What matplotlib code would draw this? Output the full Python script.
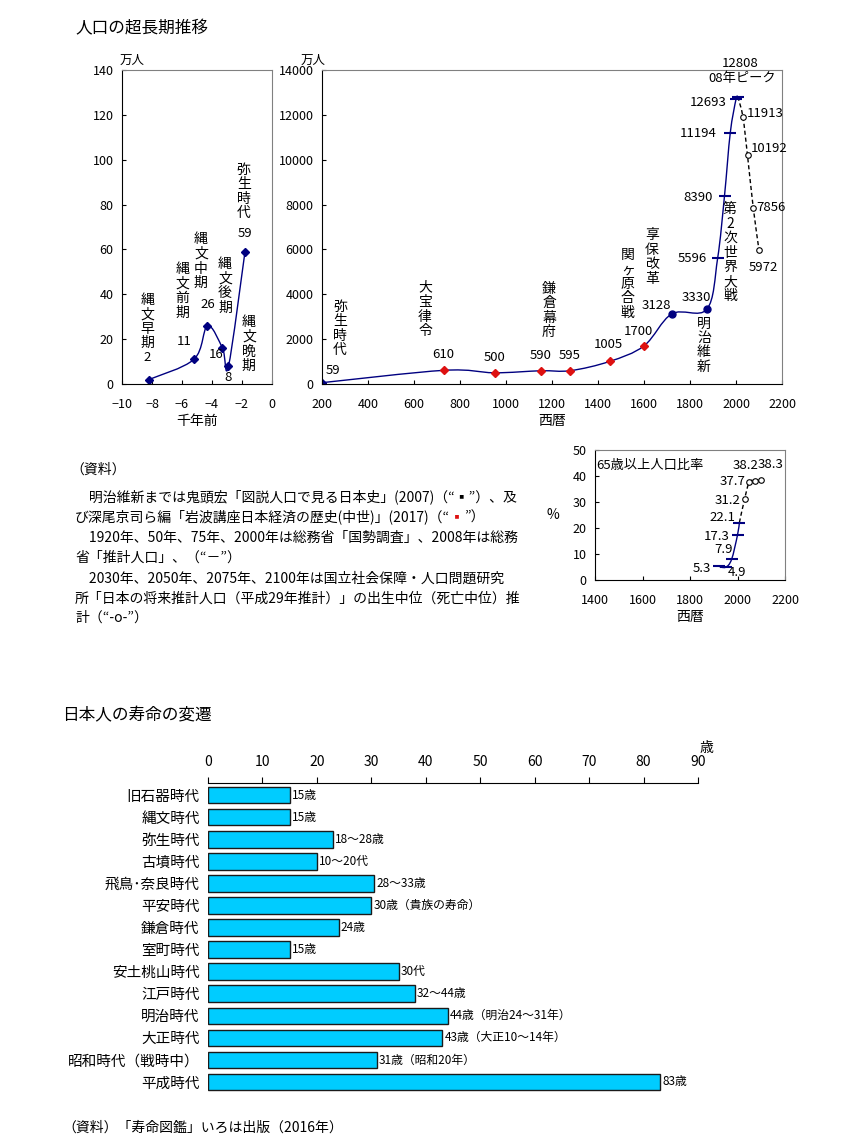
import numpy as np
import matplotlib
matplotlib.use('Agg')
import matplotlib.pyplot as plt
from matplotlib.path import Path
from matplotlib.patches import PathPatch

plt.rcParams['font.family'] = ['Noto Sans CJK JP', 'DejaVu Sans']
plt.rcParams['font.size'] = 9

W, H = 864, 1147
NAVY = '#000080'
RED = '#DD1111'

# --- 縄文 (千年前) ---
jomon_x = [-8.2, -5.2, -4.3, -3.3, -2.9, -1.8]
jomon_y = [2, 11, 26, 16, 8, 59]
jomon_names = ['縄文早期', '縄文前期', '縄文中期', '縄文後期', '縄文晩期', '弥生時代']

# --- 西暦 ---
years = [200, 730, 950, 1150, 1280, 1450, 1600, 1721, 1873, 1920, 1950, 1975, 2000, 2008]
pop = [59, 610, 500, 590, 595, 1005, 1700, 3128, 3330, 5596, 8390, 11194, 12693, 12808]
proj_years = [2008, 2030, 2050, 2075, 2100]
proj_pop = [12808, 11913, 10192, 7856, 5972]

# --- 65歳以上人口比率 ---
aged_years = [1920, 1950, 1975, 2000, 2008]
aged_pct = [5.3, 4.9, 7.9, 17.3, 22.1]
aged_proj_years = [2008, 2030, 2050, 2075, 2100]
aged_proj_pct = [22.1, 31.2, 37.7, 38.2, 38.3]

# --- 寿命 ---
eras = ['旧石器時代', '縄文時代', '弥生時代', '古墳時代', '飛鳥･奈良時代', '平安時代', '鎌倉時代',
        '室町時代', '安土桃山時代', '江戸時代', '明治時代', '大正時代', '昭和時代（戦時中）', '平成時代']
life = [15, 15, 23, 20, 30.5, 30, 24, 15, 35, 38, 44, 43, 31, 83]
life_labels = ['15歳', '15歳', '18～28歳', '10～20代', '28～33歳', '30歳（貴族の寿命）', '24歳',
               '15歳', '30代', '32～44歳', '44歳（明治24～31年）', '43歳（大正10～14年）',
               '31歳（昭和20年）', '83歳']


def box(l, t, r, b):
    return [l / W, 1 - b / H, (r - l) / W, (b - t) / H]


def ftext(px, py, s, **kw):
    return fig.text(px / W, 1 - py / H, s, va='center', **kw)


def smooth(ax, xs, ys, **kw):
    # Excel-like smoothed line through the points
    pts = np.column_stack([xs, ys]).astype(float)
    n = len(pts)
    verts = [pts[0]]
    codes = [Path.MOVETO]
    for i in range(n - 1):
        p0 = pts[i - 1] if i > 0 else pts[i]
        p1, p2 = pts[i], pts[i + 1]
        p3 = pts[i + 2] if i + 2 < n else pts[i + 1]
        verts += [p1 + (p2 - p0) / 6, p2 - (p3 - p1) / 6, p2]
        codes += [Path.CURVE4] * 3
    ax.add_patch(PathPatch(Path(verts, codes), fill=False, **kw))


def vtext(ax, x, y, s, **kw):
    ax.text(x, y, '\n'.join(s), ha='center', va='center', linespacing=1.05,
            fontsize=10, **kw)


def style(ax):
    for s in ['top', 'right']:
        ax.spines[s].set_color('#808080')
    ax.tick_params(direction='in', length=3, labelsize=9)
    ax.tick_params(axis='x', pad=10)
    ax.tick_params(axis='y', pad=6)


fig = plt.figure(figsize=(W / 100, H / 100), dpi=100)
ftext(75, 29, '人口の超長期推移', fontsize=12)

# left chart
ax1 = fig.add_axes(box(122, 70, 272, 384))
smooth(ax1, jomon_x, jomon_y, color=NAVY, lw=1)
ax1.plot(jomon_x, jomon_y, 'D', color=NAVY, ms=4)
ax1.set_xlim(-10, 0)
ax1.set_ylim(0, 140)
ax1.set_xticks(range(-10, 1, 2))
ax1.set_xticklabels(['−10', '−8', '−6', '−4', '−2', '0'])
ax1.set_yticks(range(0, 141, 20))
ax1.set_xlabel('千年前', fontsize=10, labelpad=2)
style(ax1)
ax1.text(-9.3, 141.5, '万人', fontsize=9, va='bottom', ha='center')
jomon_pos = [(-8.32, 27.9), (-5.97, 41.6), (-4.74, 54.7), (-3.13, 43.8), (-1.54, 17.7), (-1.88, 85.8)]
jomon_val_pos = [(-8.32, 11.6), (-5.86, 18.8), (-4.30, 35.5), (-3.72, 13.0), (-2.95, 3.0), (-1.83, 67.3)]
for name, (x, y) in zip(jomon_names, jomon_pos):
    vtext(ax1, x, y, name)
for v, (x, y) in zip(jomon_y, jomon_val_pos):
    ax1.text(x, y, str(v), ha='center', va='center', fontsize=9.5)

# main chart
ax2 = fig.add_axes(box(322, 70, 782, 384))
smooth(ax2, years, pop, color=NAVY, lw=1)
smooth(ax2, proj_years, proj_pop, color='black', lw=1, linestyle=(0, (3, 2)))
ax2.plot(years[:1], pop[:1], 'D', color=NAVY, ms=4)
ax2.plot(years[1:7], pop[1:7], 'D', color=RED, ms=4)
ax2.plot(years[7:9], pop[7:9], 'o', color=NAVY, ms=5)
ax2.plot(years[9:], pop[9:], '_', color=NAVY, ms=8, mew=1.5)
ax2.plot(proj_years[1:], proj_pop[1:], 'o', mfc='white', mec='black', ms=4, mew=0.8)
ax2.set_xlim(200, 2200)
ax2.set_ylim(0, 14000)
ax2.set_xticks(range(200, 2201, 200))
ax2.set_yticks(range(0, 14001, 2000))
ax2.set_xlabel('西暦', fontsize=10, labelpad=2)
style(ax2)
ax2.text(160, 14150, '万人', fontsize=9, va='bottom', ha='center')

labels_v = [('弥生時代', 278, 2480), ('大宝律令', 648, 3320), ('鎌倉幕府', 1187, 3280),
            ('関ヶ原合戦', 1530, 4470), ('享保改革', 1635, 5670), ('明治維新', 1861, 1730),
            ('第2次世界大戦', 1974, 5850)]
for s, x, y in labels_v:
    vtext(ax2, x, y, s)
val_pos = [(248, 620, 'center'), (726, 1330, 'center'), (952, 1200, 'center'), (1152, 1285, 'center'),
           (1278, 1285, 'center'), (1443, 1770, 'center'), (1574, 2350, 'center'), (1652, 3500, 'center'),
           (1826, 3850, 'center'), (1874, 5580, 'right'), (1900, 8330, 'right'), (1917, 11160, 'right'),
           (1961, 12540, 'right'), (2017, 14310, 'center')]
for v, (x, y, ha) in zip(pop, val_pos):
    ax2.text(x, y, str(v), ha=ha, va='center', fontsize=9.5, clip_on=False)
ax2.text(2026, 13640, '08年ピーク', ha='center', va='center', fontsize=9.5)
proj_pos = [(2046, 12050, 'left'), (2064, 10500, 'left'), (2090, 7885, 'left'), (2117, 5180, 'center')]
for v, (x, y, ha) in zip(proj_pop[1:], proj_pos):
    ax2.text(x, y, str(v), ha=ha, va='center', fontsize=9.5)

# aged ratio chart
ax3 = fig.add_axes(box(595, 450, 785, 580))
smooth(ax3, aged_years, aged_pct, color=NAVY, lw=1)
smooth(ax3, aged_proj_years, aged_proj_pct, color='black', lw=1, linestyle=(0, (3, 2)))
ax3.plot(aged_years, aged_pct, '_', color=NAVY, ms=8, mew=1.5)
ax3.plot(aged_proj_years[1:], aged_proj_pct[1:], 'o', mfc='white', mec='black', ms=4, mew=0.8)
ax3.set_xlim(1400, 2200)
ax3.set_ylim(0, 50)
ax3.set_xticks(range(1400, 2201, 200))
ax3.set_yticks(range(0, 51, 10))
ax3.set_xlabel('西暦', fontsize=10, labelpad=2)
ax3.set_ylabel('%', fontsize=10, rotation=0, labelpad=14, va='center')
style(ax3)
ax3.text(1407, 44.2, '65歳以上人口比率', ha='left', va='center', fontsize=9.5)
aged_val_pos = [(1848, 4.5), (1996, 2.8), (1940, 11.8), (1912, 16.7), (1936, 24.1)]
for v, (x, y) in zip(aged_pct, aged_val_pos):
    ax3.text(x, y, str(v), ha='center', va='center', fontsize=9.5)
aged_proj_pos = [(1957, 30.4), (1978, 37.8), (2032, 44.0), (2140, 44.6)]
for v, (x, y) in zip(aged_proj_pct[1:], aged_proj_pos):
    ax3.text(x, y, str(v), ha='center', va='center', fontsize=9.5, clip_on=False)

# notes
ftext(70, 470, '（資料）', fontsize=10)
ftext(75, 497, '\u3000明治維新までは鬼頭宏「図説人口で見る日本史」(2007)（“▪”）、及', fontsize=10)
t = ftext(75, 517, 'び深尾京司ら編「岩波講座日本経済の歴史(中世)」(2017)（“', fontsize=10)
t2 = plt.annotate('▪', xy=(1, 0), xycoords=t, va='bottom', ha='left', color=RED, fontsize=10)
plt.annotate('”）', xy=(1, 0), xycoords=t2, va='bottom', ha='left', fontsize=10)
ftext(75, 538, '\u30001920年、50年、75年、2000年は総務省「国勢調査」、2008年は総務', fontsize=10)
ftext(75, 558, '省「推計人口」、（“－”）', fontsize=10)
ftext(75, 579, '\u30002030年、2050年、2075年、2100年は国立社会保障・人口問題研究', fontsize=10)
ftext(75, 599, '所「日本の将来推計人口（平成29年推計）」の出生中位（死亡中位）推', fontsize=10)
ftext(75, 618, '計（“-o-”）', fontsize=10)

# life expectancy chart
ftext(62, 716, '日本人の寿命の変遷', fontsize=12)
ax4 = fig.add_axes(box(208, 783, 698, 1093))
ypos = np.arange(len(eras))
ax4.barh(ypos, life, height=0.75, color='#00CCFF', edgecolor='#1a1a1a', linewidth=1)
for y, v, s in zip(ypos, life, life_labels):
    ax4.text(v + 0.4, y, s, ha='left', va='center', fontsize=8.5)
ax4.set_xlim(0, 90)
ax4.set_ylim(len(eras) - 0.5, -0.55)
ax4.set_yticks(ypos)
ax4.set_yticklabels(eras, fontsize=10.5)
ax4.set_xticks(range(0, 91, 10))
ax4.xaxis.tick_top()
ax4.tick_params(axis='x', direction='out', length=4, labelsize=10, pad=6)
ax4.tick_params(axis='y', length=0, pad=6)
for s in ['left', 'right', 'bottom']:
    ax4.spines[s].set_visible(False)
ax4.text(91.5, -2.15, '歳', ha='center', va='center', fontsize=10, clip_on=False)
ftext(62, 1128, '（資料）「寿命図鑑」いろは出版（2016年）', fontsize=10)

fig.savefig('out.png', dpi=100)
